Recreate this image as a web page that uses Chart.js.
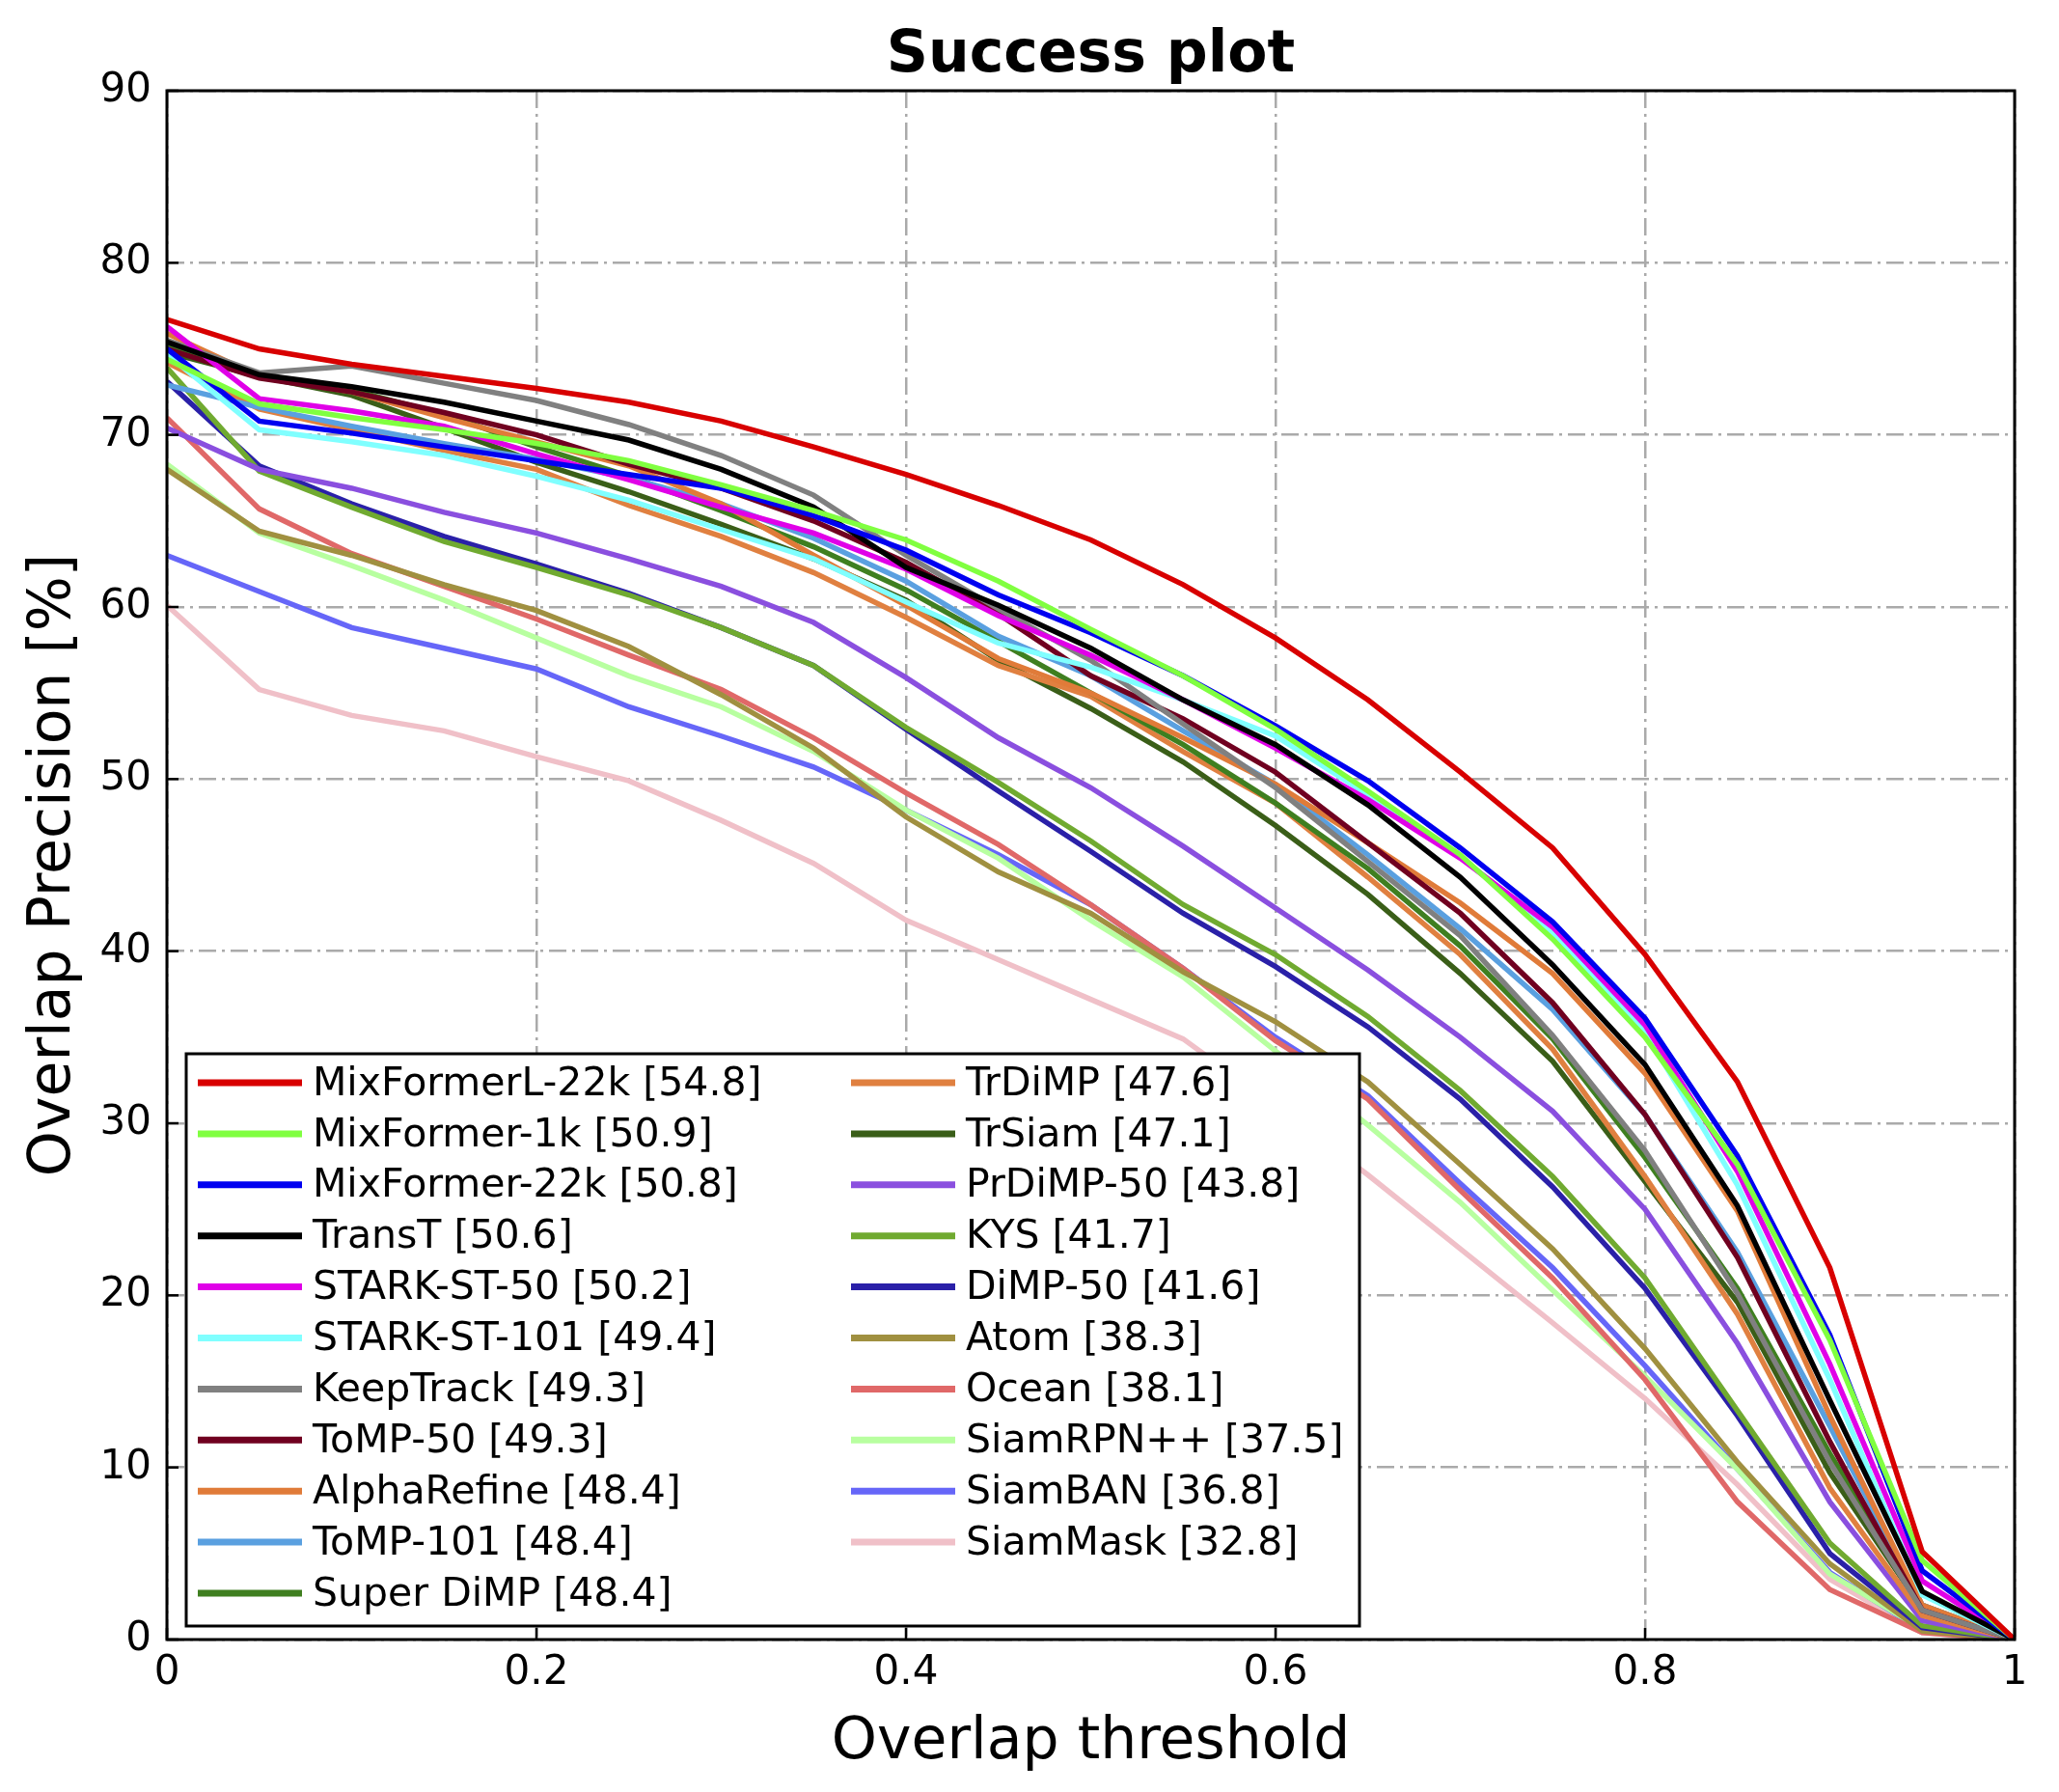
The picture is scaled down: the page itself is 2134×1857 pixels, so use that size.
<!DOCTYPE html>
<html>
<head>
<meta charset="utf-8">
<script src="https://cdn.jsdelivr.net/npm/chart.js@4.4.1/dist/chart.umd.min.js"></script>
<style>
  html, body { margin: 0; padding: 0; background: #fff; }
  canvas { display: block; }
</style>
</head>
<body>
<canvas id="successChart" width="2134" height="1857"></canvas>
<script>
// overlap thresholds (x) and success rate per tracker (y, %)
const thresholds = [0, 0.05, 0.1, 0.15, 0.2, 0.25, 0.3, 0.35, 0.4, 0.45, 0.5, 0.55, 0.6, 0.65, 0.7, 0.75, 0.8, 0.85, 0.9, 0.95, 1];
const xTickLabels = ['0', '0.2', '0.4', '0.6', '0.8', '1'];

const mixFormerL22k = [76.7, 75.0, 74.1, 73.4, 72.7, 71.9, 70.8, 69.3, 67.7, 65.9, 63.9, 61.3, 58.2, 54.6, 50.4, 46.0, 39.8, 32.4, 21.6, 5.1, 0];
const mixFormer1k = [74.4, 71.8, 71.0, 70.3, 69.5, 68.5, 67.1, 65.6, 63.9, 61.5, 58.7, 56.0, 52.9, 49.3, 45.6, 40.7, 35.0, 27.6, 17.4, 4.6, 0];
const mixFormer22k = [75.0, 70.8, 70.1, 69.3, 68.5, 67.7, 66.9, 65.3, 63.3, 60.7, 58.5, 56.0, 53.1, 49.9, 46.0, 41.7, 36.1, 28.1, 17.7, 4.0, 0];
const transT = [75.4, 73.5, 72.8, 71.9, 70.8, 69.7, 68.0, 65.8, 62.3, 60.1, 57.6, 54.6, 52.0, 48.5, 44.3, 39.2, 33.4, 25.2, 13.9, 2.8, 0];
const starkST50 = [76.3, 72.1, 71.4, 70.5, 68.9, 67.4, 65.8, 64.3, 62.2, 59.5, 57.2, 54.6, 51.8, 48.8, 45.4, 41.4, 35.7, 27.2, 16.0, 3.4, 0];
const starkST101 = [74.7, 70.3, 69.6, 68.8, 67.6, 66.2, 64.5, 62.8, 60.3, 57.9, 56.5, 54.6, 52.5, 49.1, 45.5, 41.1, 35.3, 26.4, 15.1, 2.6, 0];
const keepTrack = [75.5, 73.6, 74.0, 73.0, 72.0, 70.6, 68.8, 66.5, 63.0, 59.9, 56.9, 53.2, 49.5, 45.2, 40.9, 35.1, 28.4, 20.1, 10.3, 1.7, 0];
const toMP50 = [75.0, 73.3, 72.5, 71.3, 70.0, 68.3, 66.9, 65.0, 62.6, 59.6, 56.0, 53.5, 50.4, 46.3, 42.2, 37.0, 30.5, 22.2, 11.5, 1.7, 0];
const alphaRefine = [75.9, 73.4, 72.5, 71.0, 69.6, 68.2, 66.0, 63.0, 60.1, 57.0, 55.0, 52.4, 49.7, 46.3, 42.8, 38.7, 32.9, 24.9, 13.0, 2.0, 0];
const toMP101 = [72.9, 71.6, 70.5, 69.5, 68.6, 67.5, 66.0, 64.0, 61.5, 58.3, 56.0, 52.8, 49.7, 45.6, 41.3, 36.6, 30.5, 22.5, 12.4, 2.0, 0];
const superDiMP = [75.2, 73.5, 72.6, 71.2, 69.3, 67.6, 65.6, 63.5, 61.0, 58.0, 55.0, 52.0, 48.6, 44.8, 40.3, 34.9, 28.0, 20.4, 10.8, 2.0, 0];
const trDiMP = [74.2, 71.5, 70.3, 69.1, 68.0, 65.9, 64.1, 62.0, 59.4, 56.6, 54.8, 51.6, 48.6, 44.3, 39.8, 34.3, 26.9, 18.9, 8.8, 1.4, 0];
const trSiam = [74.8, 73.4, 72.3, 70.4, 68.4, 66.7, 64.8, 62.8, 60.4, 56.9, 54.1, 51.0, 47.3, 43.3, 38.7, 33.6, 26.6, 19.6, 9.7, 1.8, 0];
const prDiMP50 = [70.4, 68.0, 66.9, 65.5, 64.3, 62.8, 61.2, 59.1, 55.9, 52.4, 49.5, 46.1, 42.5, 38.9, 35.0, 30.7, 25.0, 17.2, 8.0, 1.1, 0];
const kys = [73.9, 67.9, 65.8, 63.8, 62.3, 60.7, 58.8, 56.6, 53.0, 49.8, 46.4, 42.7, 39.8, 36.2, 31.9, 26.9, 21.0, 13.3, 5.6, 0.8, 0];
const dimp50 = [73.1, 68.2, 66.0, 64.1, 62.5, 60.8, 58.8, 56.6, 52.9, 49.3, 45.8, 42.2, 39.1, 35.6, 31.4, 26.3, 20.4, 13.0, 5.0, 0.7, 0];
const atom = [68.0, 64.4, 63.0, 61.3, 59.8, 57.7, 54.9, 51.8, 47.8, 44.6, 42.2, 38.8, 35.9, 32.4, 27.6, 22.7, 16.9, 10.3, 4.4, 0.5, 0];
const ocean = [71.0, 65.7, 63.1, 61.2, 59.3, 57.2, 55.2, 52.4, 49.2, 46.2, 42.7, 39.0, 34.8, 31.4, 26.1, 21.0, 15.1, 8.0, 2.9, 0.4, 0];
const siamRPNpp = [68.3, 64.3, 62.4, 60.4, 58.2, 56.0, 54.2, 51.6, 48.2, 45.4, 41.8, 38.5, 34.2, 29.9, 25.4, 20.3, 15.3, 9.9, 3.8, 0.6, 0];
const siamBAN = [63.0, 60.9, 58.8, 57.6, 56.4, 54.2, 52.5, 50.7, 48.2, 45.6, 42.7, 39.0, 35.0, 31.6, 26.5, 21.6, 15.9, 9.9, 3.9, 0.5, 0];
const siamMask = [60.1, 55.2, 53.7, 52.8, 51.3, 49.9, 47.6, 45.1, 41.8, 39.5, 37.2, 34.9, 31.0, 27.0, 22.7, 18.4, 14.0, 9.0, 3.5, 0.4, 0];

const trackerNames = [
    'MixFormerL-22k [54.8]', 'MixFormer-1k [50.9]', 'MixFormer-22k [50.8]', 'TransT [50.6]',
    'STARK-ST-50 [50.2]', 'STARK-ST-101 [49.4]', 'KeepTrack [49.3]', 'ToMP-50 [49.3]',
    'AlphaRefine [48.4]', 'ToMP-101 [48.4]', 'Super DiMP [48.4]', 'TrDiMP [47.6]',
    'TrSiam [47.1]', 'PrDiMP-50 [43.8]', 'KYS [41.7]', 'DiMP-50 [41.6]',
    'Atom [38.3]', 'Ocean [38.1]', 'SiamRPN++ [37.5]', 'SiamBAN [36.8]', 'SiamMask [32.8]'
];
const trackerValues = [
    mixFormerL22k, mixFormer1k, mixFormer22k, transT, starkST50, starkST101, keepTrack, toMP50,
    alphaRefine, toMP101, superDiMP, trDiMP, trSiam, prDiMP50, kys, dimp50,
    atom, ocean, siamRPNpp, siamBAN, siamMask
];
const trackerColors = [
    '#d80000', '#80ff40', '#0000f0', '#000000', '#e000e8', '#80ffff', '#808080', '#700020',
    '#e07b39', '#5aa0e0', '#3f7f20', '#e08040', '#3a5e18', '#8a4fdf', '#70aa30', '#2a20a8',
    '#a09040', '#e06868', '#b8ffa0', '#6666f8', '#f0c0c8'
];

const FONT = "'DejaVu Sans', sans-serif";

const datasets = trackerNames.map((name, i) => ({
    label: name,
    data: thresholds.map((t, j) => ({ x: t, y: trackerValues[i][j] })),
    borderColor: trackerColors[i],
    backgroundColor: trackerColors[i],
    borderWidth: 5.5,
    pointRadius: 0,
    tension: 0,
    fill: false
}));

// frame, inward ticks, legend box and title
const decorPlugin = {
    id: 'decor',
    afterDraw(chart) {
        const ctx = chart.ctx;
        const area = chart.chartArea;
        const xs = chart.scales.x;
        const ys = chart.scales.y;
        ctx.save();

        ctx.strokeStyle = '#000';
        ctx.lineWidth = 2.5;
        ys.ticks.forEach(t => {
            const y = ys.getPixelForValue(t.value);
            ctx.beginPath();
            ctx.moveTo(area.left, y);
            ctx.lineTo(area.left + 12, y);
            ctx.stroke();
        });
        xs.ticks.forEach(t => {
            const x = xs.getPixelForValue(t.value);
            ctx.beginPath();
            ctx.moveTo(x, area.bottom);
            ctx.lineTo(x, area.bottom - 12);
            ctx.stroke();
        });
        ctx.lineWidth = 3;
        ctx.strokeRect(area.left, area.top, area.right - area.left, area.bottom - area.top);

        // legend
        const box = { left: 193, top: 1092, right: 1409, bottom: 1685 };
        ctx.fillStyle = '#fff';
        ctx.fillRect(box.left, box.top, box.right - box.left, box.bottom - box.top);
        ctx.lineWidth = 3;
        ctx.strokeStyle = '#000';
        ctx.strokeRect(box.left, box.top, box.right - box.left, box.bottom - box.top);
        ctx.font = '41px ' + FONT;
        ctx.textBaseline = 'middle';
        ctx.textAlign = 'left';
        chart.data.datasets.forEach((ds, i) => {
            const col = i < 11 ? 0 : 1;
            const row = col ? i - 11 : i;
            const y = 1122 + row * 52.9;
            const x0 = col ? 882 : 205;
            ctx.strokeStyle = ds.borderColor;
            ctx.lineWidth = 7;
            ctx.beginPath();
            ctx.moveTo(x0, y);
            ctx.lineTo(x0 + 108, y);
            ctx.stroke();
            ctx.fillStyle = '#000';
            ctx.fillText(ds.label, x0 + 119, y + 2);
        });

        // title
        ctx.font = 'bold 60px ' + FONT;
        ctx.textAlign = 'center';
        ctx.fillStyle = '#000';
        ctx.fillText('Success plot', (area.left + area.right) / 2, 58);
        ctx.restore();
    }
};

new Chart(document.getElementById('successChart'), {
    type: 'line',
    data: { datasets },
    options: {
        responsive: false,
        devicePixelRatio: 1,
        animation: false,
        layout: { padding: { top: 94, right: 46, bottom: 0, left: 0 } },
        plugins: {
            legend: { display: false },
            tooltip: { enabled: false },
            title: { display: false }
        },
        scales: {
            x: {
                type: 'linear',
                min: 0,
                max: 1,
                afterFit: scale => { scale.height = 158; },
                border: { display: false, dash: [18, 6, 3, 6] },
                grid: { color: '#aaaaaa', lineWidth: 2.5, drawTicks: false },
                ticks: {
                    stepSize: 0.2,
                    padding: 10,
                    color: '#000',
                    font: { family: FONT, size: 42 },
                    maxRotation: 0,
                    callback: (v, i) => xTickLabels[i]
                },
                title: {
                    display: true,
                    text: 'Overlap threshold',
                    color: '#000',
                    font: { family: FONT, size: 60 },
                    padding: { top: 0, bottom: 15 }
                }
            },
            y: {
                type: 'linear',
                min: 0,
                max: 90,
                afterFit: scale => { scale.width = 173; },
                border: { display: false, dash: [18, 6, 3, 6] },
                grid: { color: '#aaaaaa', lineWidth: 2.5, drawTicks: false },
                ticks: {
                    stepSize: 10,
                    padding: 16,
                    color: '#000',
                    font: { family: FONT, size: 42 }
                },
                title: {
                    display: true,
                    text: 'Overlap Precision [%]',
                    color: '#000',
                    font: { family: FONT, size: 60 },
                    padding: { top: 20, bottom: 0 }
                }
            }
        }
    },
    plugins: [decorPlugin]
});
</script>
</body>
</html>
